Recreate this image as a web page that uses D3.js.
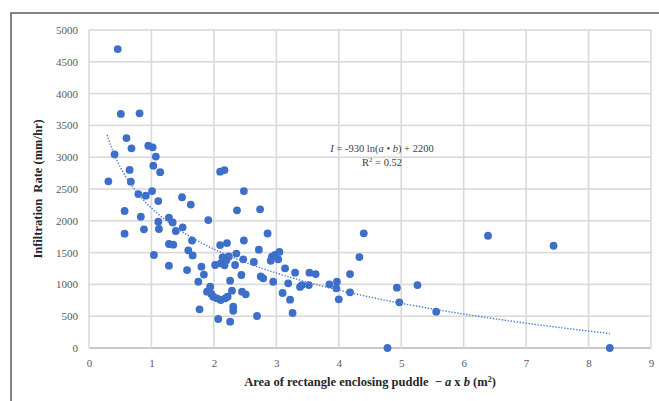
<!DOCTYPE html>
<html><head><meta charset="utf-8">
<script src="https://cdn.jsdelivr.net/npm/d3@7"></script>
<style>
html,body{margin:0;padding:0;background:#fff;}
svg{display:block;}
text{white-space:pre;}
</style></head>
<body>
<svg id="chart" width="659" height="401"></svg>
<script>
// ---- data ----
const xVals = [0.46,0.51,0.81,0.60,0.41,0.68,0.95,1.02,1.07,0.65,1.03,1.14,0.31,0.67,0.79,0.91,1.01,1.11,1.49,1.63,
  2.10,2.17,2.48,2.37,2.74,2.86,0.57,0.57,0.83,0.88,1.11,1.12,1.04,1.28,1.34,1.39,1.50,1.28,1.35,1.28,
  1.65,1.59,1.66,1.57,1.80,1.84,1.75,1.91,1.77,1.89,1.94,1.96,1.99,2.05,2.11,2.18,2.22,2.29,2.26,2.31,
  2.31,2.07,2.26,2.69,2.10,2.21,2.48,2.72,2.36,2.02,2.14,2.11,2.20,2.24,2.17,2.34,2.47,2.64,2.44,2.45,
  2.51,2.75,2.79,2.95,2.93,2.98,3.05,2.91,3.03,3.14,3.10,3.19,3.22,3.26,3.30,3.38,3.41,3.52,3.53,3.63,
  3.85,3.97,3.96,4.00,4.18,4.18,4.33,4.40,4.78,4.93,4.97,5.26,5.56,6.39,7.44,8.34];
const yVals = [4700,3680,3690,3300,3045,3140,3180,3155,3010,2800,2866,2765,2620,2615,2420,2395,2468,2310,2370,2255,
  2772,2798,2468,2165,2180,1800,2154,1797,2064,1866,1985,1871,1462,2050,1975,1840,1897,1635,1624,1294,
  1690,1536,1455,1226,1278,1155,1042,2012,608,885,964,849,806,781,755,781,806,901,1058,650,
  586,456,414,503,1619,1650,1690,1546,1485,1305,1426,1331,1380,1440,1300,1305,1394,1352,1148,885,
  844,1125,1096,1042,1435,1462,1510,1372,1394,1253,865,1017,760,550,1184,960,990,990,1184,1163,
  1001,1042,938,765,1163,875,1430,1803,0,948,718,990,571,1765,1608,0];
const xTicks = [0,1,2,3,4,5,6,7,8,9];
const yTicks = [0,500,1000,1500,2000,2500,3000,3500,4000,4500,5000];
// logarithmic trendline stated on the chart: I = -930 ln(a·b) + 2200
const trendCoef = [-930, 2200];
const trendRange = [0.29, 8.34];

// ---- drawing ----
const svg = d3.select("#chart");
const x = d3.scaleLinear().domain([0,9]).range([89,651]);
const y = d3.scaleLinear().domain([0,5000]).range([348,30]);
const serif = "'Liberation Serif','Times New Roman',serif";

// outer frame (cut off at right and bottom in the reference)
svg.append("rect").attr("x",11).attr("y",13).attr("width",720).attr("height",500)
  .attr("fill","none").attr("stroke","#5a5a5a").attr("stroke-width",1.5);

// gridlines
const grid = svg.append("g").attr("class","grid");
grid.selectAll("rect.h").data(yTicks).join("rect").attr("class","h")
  .attr("x",x(0)).attr("width",x(9)-x(0)).attr("y",d=>y(d)-0.8).attr("height",1.6)
  .attr("fill",d=>d===0?"#bcbcbc":"#d9d9d9");
grid.selectAll("rect.v").data(xTicks).join("rect").attr("class","v")
  .attr("y",y(5000)).attr("height",y(0)-y(5000)).attr("x",d=>x(d)-0.8).attr("width",1.6)
  .attr("fill","#d9d9d9");

// axes (labels only)
const yAxis = svg.append("g").attr("transform",`translate(${x(0)},0)`)
  .call(d3.axisLeft(y).tickValues(yTicks).tickSize(0).tickPadding(11).tickFormat(d3.format("d")));
const xAxis = svg.append("g").attr("transform",`translate(0,${y(0)})`)
  .call(d3.axisBottom(x).tickValues(xTicks).tickSize(0).tickPadding(11).tickFormat(d3.format("d")));
[xAxis,yAxis].forEach(a=>{
  a.select(".domain").remove();
  a.selectAll("text").attr("fill","#595959").style("font-family",serif).style("font-size","11px");
});

// points
svg.append("g").selectAll("circle").data(xVals.map((v,i)=>[v,yVals[i]])).join("circle")
  .attr("cx",d=>x(d[0])).attr("cy",d=>y(d[1])).attr("r",3.9).attr("fill","#3d6fc9");

// trendline
const tPts = d3.range(0,201).map(i=>{
  const xv = trendRange[0] + (trendRange[1]-trendRange[0])*i/200;
  return [xv, trendCoef[0]*Math.log(xv)+trendCoef[1]];
});
svg.append("path").datum(tPts)
  .attr("d",d3.line().x(d=>x(d[0])).y(d=>y(d[1])))
  .attr("fill","none").attr("stroke","#4a7bd0").attr("stroke-width",1.4)
  .attr("stroke-dasharray","1.4,1.6");

// equation label
const eq = svg.append("text").attr("x",382).attr("y",152).attr("text-anchor","middle")
  .style("font-family",serif).style("font-size","10.5px").attr("fill","#404040");
eq.append("tspan").style("font-style","italic").text("I");
eq.append("tspan").text(" = -930 ln(");
eq.append("tspan").style("font-style","italic").text("a");
eq.append("tspan").text(" • ");
eq.append("tspan").style("font-style","italic").text("b");
eq.append("tspan").text(") + 2200");
const r2 = svg.append("text").attr("x",382).attr("y",166).attr("text-anchor","middle")
  .style("font-family",serif).style("font-size","10.5px").attr("fill","#404040");
r2.append("tspan").text("R");
r2.append("tspan").attr("dy",-4).style("font-size","7px").text("2");
r2.append("tspan").attr("dy",4).text(" = 0.52");

// axis titles
const xt = svg.append("text").attr("x",370).attr("y",386).attr("text-anchor","middle")
  .style("font-family",serif).style("font-size","12.5px").style("font-weight","bold").attr("fill","#262626");
xt.append("tspan").text("Area of rectangle enclosing puddle  − ");
xt.append("tspan").style("font-style","italic").text("a");
xt.append("tspan").text(" x ");
xt.append("tspan").style("font-style","italic").text("b");
xt.append("tspan").text(" (m");
xt.append("tspan").attr("dy",-4).style("font-size","8px").text("2");
xt.append("tspan").attr("dy",4).text(")");

svg.append("text").attr("transform","translate(42,189) rotate(-90)").attr("text-anchor","middle")
  .style("font-family",serif).style("font-size","12.5px").style("font-weight","bold").attr("fill","#262626")
  .text("Infiltration  Rate (mm/hr)");
</script>
</body></html>
